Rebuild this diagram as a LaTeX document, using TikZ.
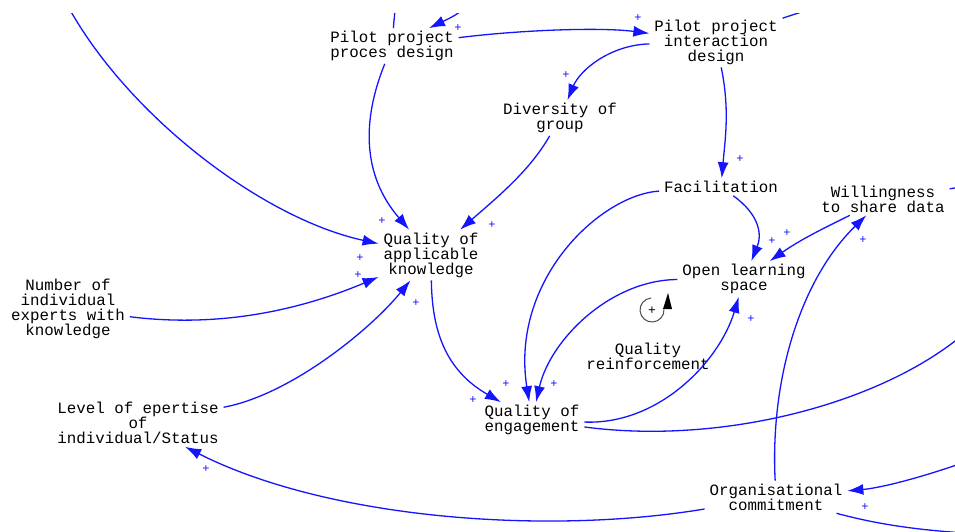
\documentclass[tikz,border=0pt]{standalone}
\usepackage{fontspec}
\setmonofont{Liberation Mono}
\usetikzlibrary{arrows.meta}
\definecolor{linkblue}{RGB}{20,20,255}
\begin{document}
\begin{tikzpicture}[x=1pt,y=1pt,
  var/.style={font=\ttfamily\fontsize{15.8}{15}\selectfont, align=center,
              inner xsep=5pt, inner ysep=3pt, outer sep=0pt},
  link/.style={draw=linkblue, line width=1.3pt, -{Latex[length=16pt,width=11pt]}},
  tail/.style={draw=linkblue, line width=1.3pt},
  pol/.style={text=linkblue, font=\ttfamily\fontsize{12}{12}\selectfont, inner sep=0pt}
]
\fill[white] (0,-531) rectangle (955,0);
\useasboundingbox (0,-531) rectangle (955,0);
\clip (0,-531) rectangle (955,-13);

% variables
\node[var] (ppd)  at (392,-46)  {Pilot project\\proces design};
\node[var] (ppid) at (716,-42)  {Pilot project\\interaction\\design};
\node[var] (dg)   at (560,-118) {Diversity of\\group};
\node[var] (qak)  at (431,-255) {Quality of\\applicable\\knowledge};
\node[var] (fac)  at (721,-187) {Facilitation};
\node[var] (wsd)  at (883,-199) {Willingness\\to share data};
\node[var] (ols)  at (744,-279) {Open learning\\space};
\node[var] (nie)  at (68,-309)  {Number of\\individual\\experts with\\knowledge};
\node[var] (loe)  at (138,-423) {Level of epertise\\of\\individual/Status};
\node[var] (qoe)  at (532,-420) {Quality of\\engagement};
\node[var] (oc)   at (776,-497) {Organisational\\commitment};
\node[var] (loop) at (648,-356) {Quality\\reinforcement};

% loose ends of links leaving the frame
\coordinate (tl)      at (62,5);
\coordinate (topin)   at (480,8);
\coordinate (topout)  at (397,8);
\coordinate (ppidout) at (835,8);
\coordinate (wsdout)  at (975,-184);
\coordinate (qoeout)  at (965,-333);
\coordinate (ocin)    at (965,-462);
\coordinate (ocout)   at (965,-533);

% causal links
\draw[link] (tl) .. controls (120,-110) and (260,-218) .. (qak);
\draw[link] (ppd) .. controls (362,-120) and (362,-175) .. (qak);
\draw[link] (dg) .. controls (530,-170) and (500,-195) .. (qak);
\draw[link] (nie) .. controls (220,-328) and (300,-310) .. (qak);
\draw[link] (loe) .. controls (290,-395) and (370,-330) .. (qak);
\draw[link] (qak) .. controls (432,-330) and (445,-370) .. (qoe);
\draw[link] (fac) .. controls (600,-195) and (510,-280) .. (qoe);
\draw[link] (fac) .. controls (760,-215) and (762,-235) .. (ols);
\draw[link] (wsd) .. controls (820,-230) and (800,-240) .. (ols);
\draw[link] (ols) .. controls (610,-280) and (550,-340) .. (qoe);
\draw[link] (qoe) .. controls (660,-425) and (720,-360) .. (ols);
\draw[tail] (qoe) .. controls (720,-445) and (880,-405) .. (qoeout);
\draw[link] (oc) .. controls (770,-380) and (800,-280) .. (wsd);
\draw[link] (oc) .. controls (550,-535) and (330,-520) .. (loe);
\draw[link] (ocin) .. controls (920,-478) and (880,-488) .. (oc);
\draw[tail] (oc) .. controls (880,-525) and (920,-530) .. (ocout);
\draw[link] (ppd) .. controls (520,-30) and (600,-27) .. (ppid);
\draw[link] (ppid) .. controls (610,-45) and (580,-70) .. (dg);
\draw[link] (ppid) .. controls (730,-110) and (725,-140) .. (fac);
\draw[link] (topin) .. controls (465,-12) and (450,-18) .. (ppd);
\draw[tail] (ppd) .. controls (394,-20) and (395,-10) .. (topout);
\draw[tail] (ppid) .. controls (800,-12) and (815,-10) .. (ppidout);
\draw[tail] (wsd) .. controls (955,-188) and (965,-186) .. (wsdout);

% link polarities
\node[pol] (s1)  at (458,-28)  {+};
\node[pol] (s2)  at (638,-18)  {+};
\node[pol] (s3)  at (566,-75)  {+};
\node[pol] (s4)  at (740,-159) {+};
\node[pol] (s5)  at (382,-221) {+};
\node[pol] (s6)  at (492,-225) {+};
\node[pol] (s7)  at (360,-258) {+};
\node[pol] (s8)  at (358,-275) {+};
\node[pol] (s9)  at (416,-303) {+};
\node[pol] (s10) at (473,-400) {+};
\node[pol] (s11) at (506,-384) {+};
\node[pol] (s12) at (554,-384) {+};
\node[pol] (s13) at (772,-241) {+};
\node[pol] (s14) at (787,-233) {+};
\node[pol] (s15) at (751,-319) {+};
\node[pol] (s16) at (863,-240) {+};
\node[pol] (s17) at (206,-469) {+};
\node[pol] (s18) at (865,-507) {+};

% reinforcing loop marker
\draw[black!70, line width=1pt] (652,-310) ++(95:12) arc (95:362:12);
\fill[black] (663,-309) -- (672,-309) -- (668,-293) -- cycle;
\node[inner sep=0pt, font=\ttfamily\fontsize{13}{13}\selectfont] (loopsign) at (652,-311) {+};
\end{tikzpicture}
\end{document}
